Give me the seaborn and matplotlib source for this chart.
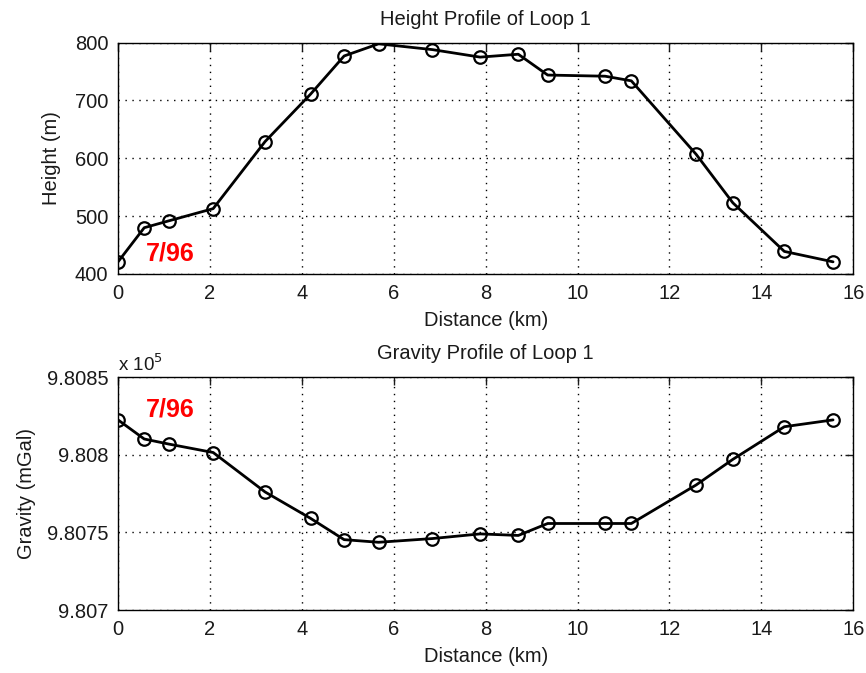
import numpy as np
import pandas as pd
import seaborn as sns
import matplotlib.pyplot as plt

# values
distance_km = [0.0, 0.57, 1.11, 2.07, 3.2, 4.19, 4.92, 5.67, 6.84, 7.88,
               8.71, 9.35, 10.6, 11.17, 12.58, 13.38, 14.5, 15.56]
height_m = [421, 480, 492, 513, 629, 711, 777, 798, 788, 775,
            780, 744, 742, 734, 607, 523, 439, 421]
# gravity in units of 10^5 mGal
gravity_e5 = [9.808224, 9.808101, 9.808068, 9.808014, 9.80776, 9.80759, 9.807453,
              9.807436, 9.80746, 9.80749, 9.80748, 9.807557, 9.807557, 9.807557,
              9.807805, 9.80797, 9.80818, 9.808224]

x_ticks = [0, 2, 4, 6, 8, 10, 12, 14, 16]
height_ticks = [400, 500, 600, 700, 800]
gravity_ticks = [9.807, 9.8075, 9.808, 9.8085]
gravity_tick_labels = ['9.807', '9.8075', '9.808', '9.8085']

df = pd.DataFrame({'Distance': distance_km, 'Height': height_m, 'Gravity': gravity_e5})

sns.set_style("white")
plt.rcParams['font.family'] = ['Liberation Sans', 'DejaVu Sans']
plt.rcParams['font.size'] = 14
plt.rcParams['text.color'] = '#1a1a1a'

fig = plt.figure(figsize=(8.66, 6.73), dpi=100)
ax1 = fig.add_axes([0.1363, 0.5929, 0.849, 0.3437])
ax2 = fig.add_axes([0.1363, 0.0936, 0.849, 0.3462])

line_kw = dict(color='black', linewidth=2.0, marker='o', markersize=9,
               markerfacecolor='none', markeredgecolor='black', markeredgewidth=1.6,
               sort=False, estimator=None)

sns.lineplot(data=df, x='Distance', y='Height', ax=ax1, **line_kw)
sns.lineplot(data=df, x='Distance', y='Gravity', ax=ax2, **line_kw)

for ax in (ax1, ax2):
    ax.set_xlim(0, 16)
    ax.set_xticks(x_ticks)
    ax.grid(True, linestyle=(0, (1, 4)), color='black', linewidth=1.0)
    ax.tick_params(direction='in', top=True, right=True, length=6, width=1,
                   labelsize=14.5, pad=7, colors='#1a1a1a')
    for s in ax.spines.values():
        s.set_color('black')
        s.set_linewidth(1.0)
    ax.set_xlabel('Distance (km)', fontsize=14.5, labelpad=6, color='#1a1a1a')

ax1.set_ylim(400, 800)
ax1.set_yticks(height_ticks)
ax1.set_ylabel('Height (m)', fontsize=14.5, labelpad=10, color='#1a1a1a')
ax1.set_title('Height Profile of Loop 1', fontsize=14.5, pad=13, color='#1a1a1a')
ax1.text(1.13, 436, '7/96', color='red', fontsize=18, fontweight='bold',
         ha='center', va='center')

ax2.set_ylim(9.807, 9.8085)
ax2.set_yticks(gravity_ticks)
ax2.set_yticklabels(gravity_tick_labels)
ax2.set_ylabel('Gravity (mGal)', fontsize=14.5, labelpad=8, color='#1a1a1a')
ax2.set_title('Gravity Profile of Loop 1', fontsize=14.5, pad=13, color='#1a1a1a')
ax2.text(1.13, 9.808288, '7/96', color='red', fontsize=18, fontweight='bold',
         ha='center', va='center')
ax2.text(0.0, 1.01, r'x 10$^5$', transform=ax2.transAxes, fontsize=13.5,
         ha='left', va='bottom')

fig.savefig('out.png', dpi=100)
